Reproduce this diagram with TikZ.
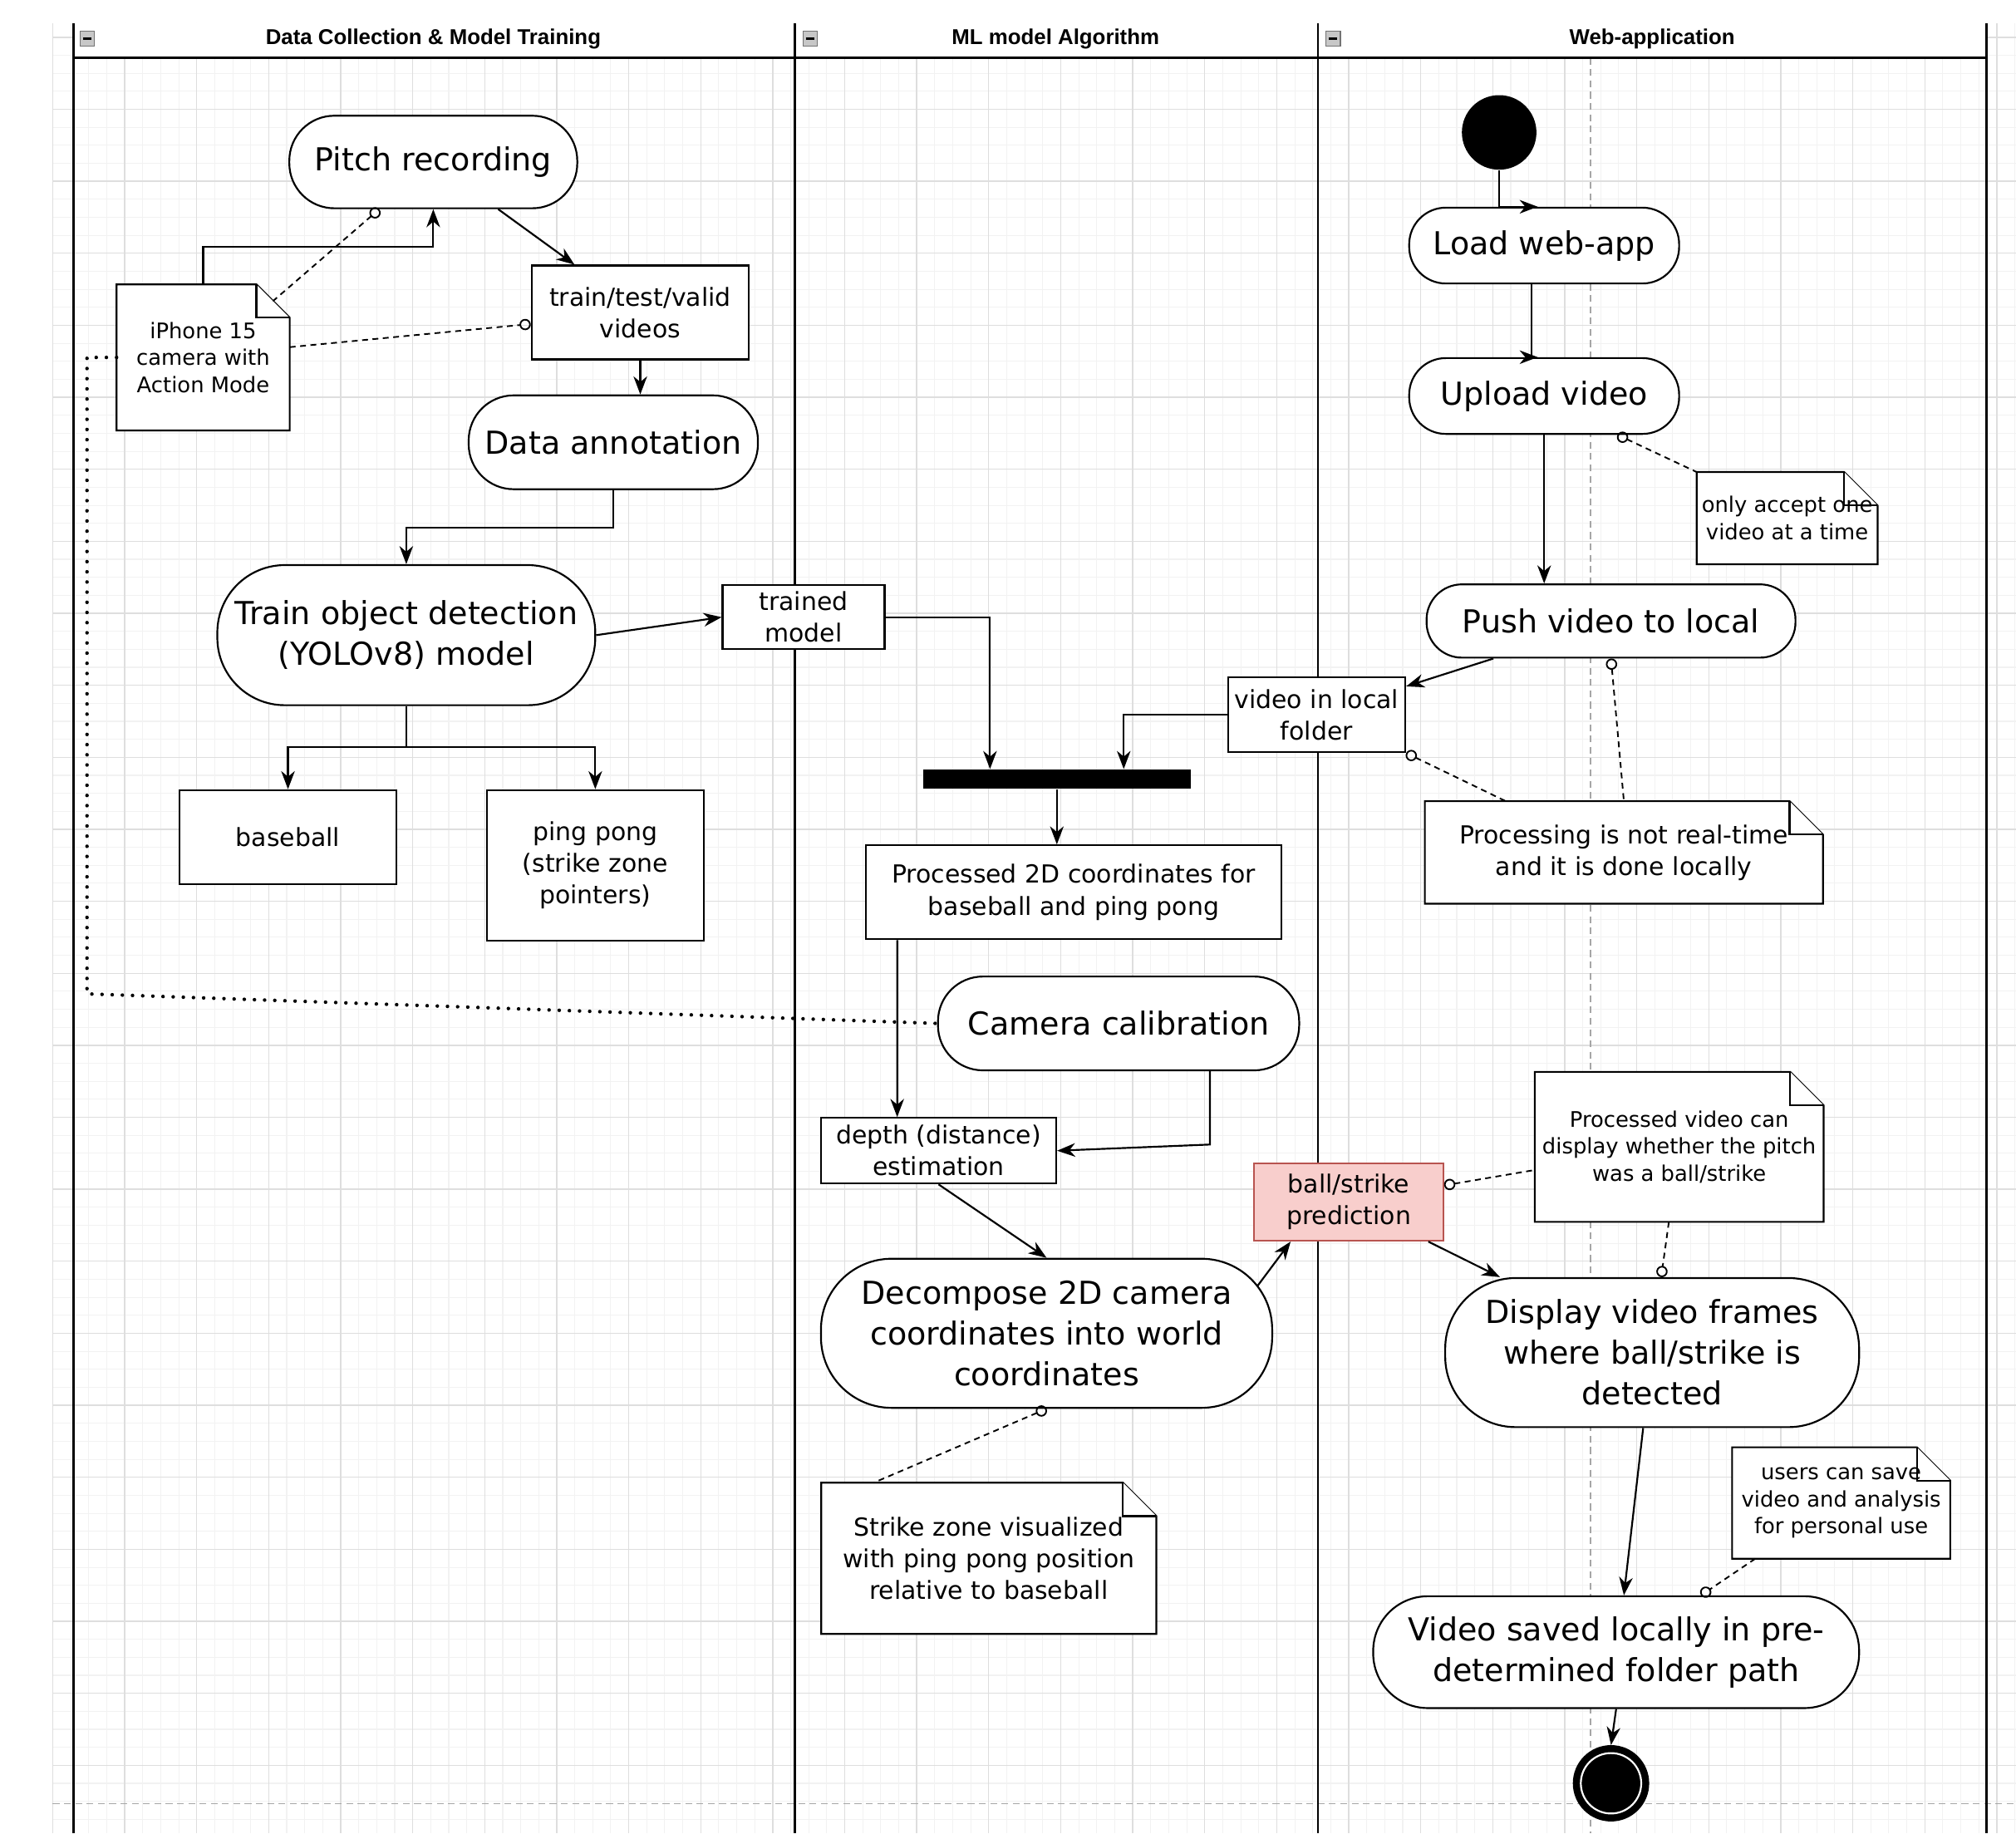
\documentclass[tikz,border=0pt]{standalone}
\usepackage{fontspec}
\setmainfont{DejaVu Sans}
\newfontfamily\lanefont{Liberation Sans}
\usetikzlibrary{arrows.meta,calc}
\pgfdeclarelayer{bg}
\pgfdeclarelayer{mid}
\pgfsetlayers{bg,mid,main}
\definecolor{rosefill}{HTML}{F8CECC}
\definecolor{roseline}{HTML}{B85450}
\newcommand{\bigtext}{\fontsize{14}{18}\selectfont}
\newcommand{\midtext}{\fontsize{11}{14}\selectfont}
\newcommand{\smalltext}{\fontsize{9.5}{12}\selectfont}
% outline of a note with its folded corner
\newcommand{\notefold}[1]{%
  \filldraw[notebody] ($(#1.north east)+(-26,0)$) -- (#1.north west) -- (#1.south west)
    -- (#1.south east) -- ($(#1.north east)+(0,26)$) -- cycle;
  \draw[notebody] ($(#1.north east)+(-26,0)$) |- ($(#1.north east)+(0,26)$);}

\begin{document}
\begin{tikzpicture}[x=0.02cm,y=-0.02cm]
    \tikzset{activity/.style = {shape=rectangle,draw,fill=white,line width=0.8pt,rounded corners=#1,align=center,inner sep=2pt,font=\bigtext}}
    \tikzset{activity/.default = 0.7cm}
    \tikzset{store/.style = {shape=rectangle,draw,fill=white,line width=0.8pt,align=center,inner sep=2pt,font=\midtext}}
    \tikzset{memo/.style = {shape=rectangle,inner sep=0pt,align=center,font=\smalltext}}
    \tikzset{notebody/.style = {fill=white,draw,line width=0.8pt}}
    \tikzset{flow/.style = {-{Stealth[length=8pt,width=6pt,inset=2.5pt]},line width=0.8pt}}
    \tikzset{tiestart/.style = {{Circle[open,length=5pt]}-,dash pattern=on 2.6pt off 2pt,line width=0.7pt}}
    \tikzset{tieend/.style = {-{Circle[open,length=5pt]},dash pattern=on 2.6pt off 2pt,line width=0.7pt}}
    \tikzset{calibdots/.style = {dash pattern=on 0pt off 4.5pt,line cap=round,line width=1.6pt}}
    \tikzset{lane/.style = {line width=1pt}}
    \tikzset{lanetitle/.style = {font=\lanefont\bfseries\fontsize{9.5}{11}\selectfont}}
    \tikzset{minusbox/.style = {draw=black!55,fill=black!22,minimum width=0.22cm,minimum height=0.24cm,inner sep=0pt,font=\tiny}}
    \tikzset{startdot/.style = {shape=circle,fill=black,minimum size=1.16cm,inner sep=0pt}}
    \tikzset{enddot/.style = {shape=circle,fill=black,draw,line width=0.8pt,minimum size=1.16cm,inner sep=0pt,
        path picture={\draw[white,line width=0.8pt] (path picture bounding box.center) circle (0.47cm);}}}
    \useasboundingbox (0,0) rectangle (1568,1426);

    % background grid and page breaks
    \begin{pgfonlayer}{bg}
    \foreach \gx in {41,55,...,1568} {\draw[black!5,line width=0.4pt] (\gx,18) -- (\gx,1426);}
    \foreach \gy in {29,43,...,1426} {\draw[black!5,line width=0.4pt] (41,\gy) -- (1568,\gy);}
    \foreach \gx in {41,97,...,1568} {\draw[black!13,line width=0.5pt] (\gx,18) -- (\gx,1426);}
    \foreach \gy in {29,85,...,1426} {\draw[black!13,line width=0.5pt] (41,\gy) -- (1568,\gy);}
    \draw[black!35,dash pattern=on 3pt off 2pt,line width=0.5pt] (1237,45) -- (1237,1426);
    \draw[black!35,dash pattern=on 3pt off 2pt,line width=0.5pt] (41,1403) -- (1568,1403);
    \fill[white] (57,18) rectangle (1545,45);
    \end{pgfonlayer}

    % swimlanes
    \draw[lane] (57,18) -- (57,1426);
    \draw[lane] (618,18) -- (618,1426);
    \draw[lane] (1025,18) -- (1025,1426);
    \draw[lane] (1545,18) -- (1545,1426);
    \draw[lane,line width=1.3pt] (57,45) -- (1545,45);
    \node[minusbox] (minusA) at (68,30) {\rule{0.13cm}{0.9pt}};
    \node[minusbox] (minusB) at (630,30) {\rule{0.13cm}{0.9pt}};
    \node[minusbox] (minusC) at (1037,30) {\rule{0.13cm}{0.9pt}};
    \node[lanetitle] (titleA) at (337,30) {Data Collection \& Model Training};
    \node[lanetitle] (titleB) at (821,30) {ML model Algorithm};
    \node[lanetitle] (titleC) at (1285,30) {Web-application};

    % data collection & model training
    \node[activity, minimum width=4.48cm, minimum height=1.44cm] (pitch) at (337,126) {Pitch recording};
    \node[memo, minimum width=2.68cm, minimum height=2.26cm] (phone) at (158,278) {iPhone 15\\camera with\\Action Mode};
    \node[store, minimum width=3.38cm, minimum height=1.46cm] (videos) at (498,243) {train/test/valid\\videos};
    \node[activity, minimum width=4.5cm, minimum height=1.46cm] (annot) at (477,344) {Data annotation};
    \node[activity=1.05cm, minimum width=5.88cm, minimum height=2.18cm] (train) at (316,494) {Train object detection\\(YOLOv8) model};
    \node[store, minimum width=3.38cm, minimum height=1.46cm] (baseball) at (224,651) {baseball};
    \node[store, minimum width=3.38cm, minimum height=2.34cm] (pingpong) at (463,673) {ping pong\\(strike zone\\pointers)};
    \node[store, minimum width=2.52cm, minimum height=1.0cm] (trained) at (625,480) {trained\\model};

    % ML model algorithm
    \node[fill=black, minimum width=4.16cm, minimum height=0.3cm, inner sep=0pt] (fork) at (822,606) {};
    \node[store, minimum width=6.46cm, minimum height=1.46cm] (coords) at (835,694) {Processed 2D coordinates for\\baseball and ping pong};
    \node[activity, minimum width=5.62cm, minimum height=1.46cm] (calib) at (870,796) {Camera calibration};
    \node[store, minimum width=3.66cm, minimum height=1.02cm] (depth) at (730,895) {depth (distance)\\estimation};
    \node[activity=1.1cm, minimum width=7.02cm, minimum height=2.32cm] (decomp) at (814,1037) {Decompose 2D camera\\coordinates into world\\coordinates};
    \node[memo, font=\midtext, minimum width=5.2cm, minimum height=2.34cm] (zone) at (769,1212) {Strike zone visualized\\with ping pong position\\relative to baseball};
    \node[store, fill=rosefill, draw=roseline, minimum width=2.94cm, minimum height=1.2cm] (predict) at (1049,935) {ball/strike\\prediction};

    % web-application
    \node[startdot] (start) at (1166,103) {};
    \node[activity=0.57cm, minimum width=4.2cm, minimum height=1.18cm] (load) at (1201,191) {Load web-app};
    \node[activity=0.57cm, minimum width=4.2cm, minimum height=1.18cm] (upload) at (1201,308) {Upload video};
    \node[memo, minimum width=2.8cm, minimum height=1.42cm] (once) at (1390,403) {only accept one\\video at a time};
    \node[activity=0.55cm, minimum width=5.74cm, minimum height=1.14cm] (push) at (1253,483) {Push video to local};
    \node[store, minimum width=2.76cm, minimum height=1.16cm] (folder) at (1024,556) {video in local\\folder};
    \node[memo, font=\midtext, minimum width=6.18cm, minimum height=1.58cm] (realtime) at (1263,663) {Processing is not real-time\\and it is done locally};
    \node[memo, minimum width=4.48cm, minimum height=2.32cm] (shown) at (1306,892) {Processed video can\\display whether the pitch\\was a ball/strike};
    \node[activity=1.1cm, minimum width=6.44cm, minimum height=2.32cm] (display) at (1285,1052) {Display video frames\\where ball/strike is\\detected};
    \node[memo, minimum width=3.38cm, minimum height=1.72cm] (save) at (1432,1169) {users can save\\video and analysis\\for personal use};
    \node[activity=0.85cm, minimum width=7.56cm, minimum height=1.74cm] (saved) at (1257,1285) {Video saved locally in pre-\\determined folder path};
    \node[enddot] (end) at (1253,1387) {};

    \begin{pgfonlayer}{mid}
    \foreach \n in {phone,zone,once,realtime,shown,save} {\notefold{\n}}
    \end{pgfonlayer}

    % control flow
    \draw[flow] (pitch) -- (videos);
    \draw[flow] (phone.north) -- ++(0,-29) -| (pitch.south);
    \draw[flow] (videos.south) -- (videos.south |- annot.north);
    \draw[flow] (annot.south) -- ++(0,29) -| (train.north);
    \draw[flow] (train.east) -- (trained.west);
    \draw[flow] (train.south) -- ++(0,32) -| (baseball.north);
    \draw[flow] (train.south) -- ++(0,32) -| (pingpong.north);
    \draw[flow] (trained.east) -| ($(fork.north)+(-52,0)$);
    \draw[flow] (push) -- (folder);
    \draw[flow] (folder.west) -| ($(fork.north)+(52,0)$);
    \draw[flow] (fork.south) -- (fork.south |- coords.north);
    \draw[flow] ($(coords.south west)+(25,0)$) -- ($(depth.north west)+(60,0)$);
    \draw[flow] ($(calib.south)+(71,0)$) -- ++(0,57) -- (depth.east);
    \draw[flow] (depth.south) -- (decomp.north);
    \draw[flow] ($(decomp.east)+(-12,-37)$) -- ($(predict.south west)+(29,0)$);
    \draw[flow] (predict) -- (display);
    \draw[flow] (start.south) |- ($(load.north)+(-5,0)$);
    \draw[flow] ($(load.south)+(-10,0)$) |- ($(upload.north)+(-5,0)$);
    \draw[flow] (upload.south) -- (upload.south |- push.north);
    \draw[flow] ($(display.south)+(-7,0)$) -- ($(saved.north)+(6,0)$);
    \draw[flow] (saved.south) -- (end.north);

    % note links
    \draw[tiestart] ($(pitch.south)+(-42,0)$) -- ($(phone.north east)+(-13,13)$);
    \draw[tieend] ($(phone.east)+(0,-8)$) -- ($(videos.west)+(0,9)$);
    \draw[calibdots] (phone.west) -- ++(-23,0) -- ++(0,495) -- (calib.west);
    \draw[tiestart] (decomp.south) -- ($(zone.north west)+(41,0)$);
    \draw[tiestart] ($(upload.south)+(57,0)$) -- (once.north west);
    \draw[tiestart] (push.south) -- (realtime.north);
    \draw[tiestart] (folder.south east) -- ($(realtime.north west)+(63,0)$);
    \draw[tiestart] ($(predict.east)+(0,-13)$) -- ($(shown.west)+(0,18)$);
    \draw[tieend] ($(shown.south)+(-8,0)$) -- ($(display.north)+(7,0)$);
    \draw[tieend] ($(save.south west)+(18,0)$) -- ($(saved.north)+(66,0)$);
\end{tikzpicture}
\end{document}
